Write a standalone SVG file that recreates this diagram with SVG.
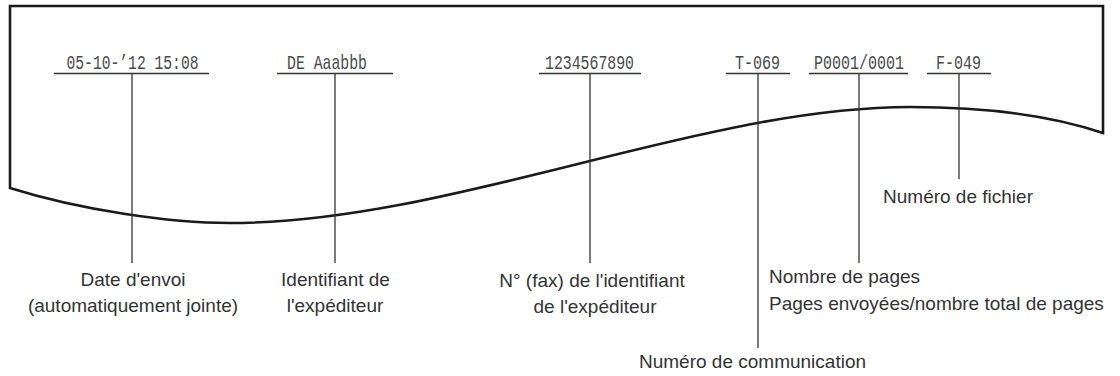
<svg xmlns="http://www.w3.org/2000/svg" width="1120" height="376" viewBox="0 0 1120 376">
<style>
.paper{fill:#fff;stroke:#1a1a1a;stroke-width:2.6;stroke-linejoin:miter}
.lead{stroke:#333;stroke-width:1.3;fill:none}
.mono{font-family:"Liberation Mono","DejaVu Sans Mono",monospace;font-size:21px;fill:#4a4a4a;text-anchor:middle}
.lbl{font-family:"Liberation Sans",Arial,sans-serif;font-size:19px;fill:#333;text-anchor:middle}
</style>
<rect width="1120" height="376" fill="#fff"/>
<g id="paper">
<path class="paper" d="M10,188 L10,6 L1103,6 L1103,133 C1050,115 980,107 910,107 C700,107 450,223 230,223 C170,223 80,210 10,188 Z"/>
</g>
<g id="connectors">
<line class="lead" x1="54" y1="73.5" x2="209" y2="73.5"/>
<line class="lead" x1="132" y1="73.5" x2="132" y2="263"/>
<line class="lead" x1="277" y1="73.5" x2="393" y2="73.5"/>
<line class="lead" x1="335" y1="73.5" x2="335" y2="263"/>
<line class="lead" x1="539" y1="73.5" x2="641" y2="73.5"/>
<line class="lead" x1="590" y1="73.5" x2="590" y2="263"/>
<line class="lead" x1="726" y1="73.5" x2="790" y2="73.5"/>
<line class="lead" x1="758" y1="73.5" x2="758" y2="348"/>
<line class="lead" x1="809" y1="73.5" x2="908" y2="73.5"/>
<line class="lead" x1="859" y1="73.5" x2="859" y2="263"/>
<line class="lead" x1="927" y1="73.5" x2="991" y2="73.5"/>
<line class="lead" x1="959" y1="73.5" x2="959" y2="179"/>
</g>
<g id="date">
<text class="mono" x="132.5" y="69" textLength="132" lengthAdjust="spacingAndGlyphs">05-10-’12 15:08</text>
<text class="lbl" x="133" y="286">Date d'envoi</text>
<text class="lbl" x="133" y="312">(automatiquement jointe)</text>
</g>
<g id="sender">
<text class="mono" x="327" y="69" textLength="80" lengthAdjust="spacingAndGlyphs">DE Aaabbb</text>
<text class="lbl" x="335.5" y="286">Identifiant de</text>
<text class="lbl" x="335" y="312">l'expéditeur</text>
</g>
<g id="faxnumber">
<text class="mono" x="589.5" y="69" textLength="89" lengthAdjust="spacingAndGlyphs">1234567890</text>
<text class="lbl" x="592" y="287">N° (fax) de l'identifiant</text>
<text class="lbl" x="595" y="313">de l'expéditeur</text>
</g>
<g id="commnumber">
<text class="mono" x="757.5" y="69" textLength="45" lengthAdjust="spacingAndGlyphs">T-069</text>
<text class="lbl" x="752.5" y="368">Numéro de communication</text>
</g>
<g id="pages">
<text class="mono" x="859" y="69" textLength="90" lengthAdjust="spacingAndGlyphs">P0001/0001</text>
<text class="lbl" x="769" y="283" style="text-anchor:start">Nombre de pages</text>
<text class="lbl" x="769" y="310" style="text-anchor:start">Pages envoyées/nombre total de pages</text>
</g>
<g id="filenumber">
<text class="mono" x="958.5" y="69" textLength="45" lengthAdjust="spacingAndGlyphs">F-049</text>
<text class="lbl" x="958" y="203">Numéro de fichier</text>
</g>
</svg>
